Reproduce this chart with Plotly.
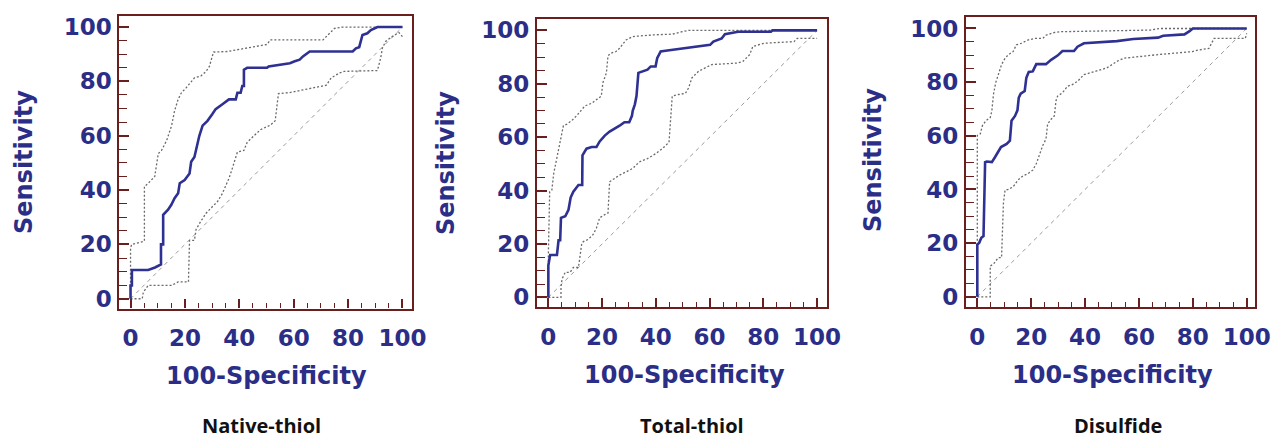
import plotly.graph_objects as go

# ---------------- data ----------------
panel_titles = ["Native-thiol", "Total-thiol", "Disulfide"]
x_title = "100-Specificity"
y_title = "Sensitivity"
tick_vals = [0, 20, 40, 60, 80, 100]
tick_text = ["0", "20", "40", "60", "80", "100"]

# Native-thiol ROC
native_x = [0, 0, 0.5, 0.5, 6.5, 9, 11.2, 11.2, 12, 12, 13.8, 15, 16.2, 17.5, 18.1, 19.9, 21.7, 22.3,
            23.5, 24.5, 25.3, 26.5, 28.3, 30.1, 31.3, 33.8, 36.2, 38.7, 39.3, 40.5, 41.1, 41.7, 41.7,
            42.9, 50.2, 50.8, 55, 58.6, 60.4, 62.2, 63.4, 65.9, 81.7, 82.9, 84.1, 85.3, 87.1, 88.4,
            90.8, 100]
native_y = [0, 4.9, 4.9, 10.6, 10.6, 11.5, 12.6, 20, 20, 30.9, 32.8, 34.6, 37, 38.8, 42.5, 43.7, 46.1,
            50.4, 52.2, 57, 60, 63.7, 65.5, 68, 69.8, 71.6, 73.4, 73.4, 75.8, 75.8, 78.3, 78.3, 84.3,
            85, 85, 85.5, 86.1, 86.7, 87.4, 88, 89.2, 91, 91, 92.2, 92.6, 97.1, 97.7, 98.9, 100, 100]
native_up_x = [0, 0, 0.4, 4.7, 5.1, 5.1, 6.5, 8.9, 10.2, 11.4, 13.3, 15.1, 16.2, 17.5, 18.7, 20.5,
               23.5, 25.9, 27.8, 29, 30.5, 35.6, 40.5, 45.4, 50.2, 51.4, 70.8, 72.6, 75, 78, 100]
native_up_y = [0, 18.6, 20, 21.2, 21.2, 41.3, 42.5, 45, 53.4, 54.6, 58.3, 63.7, 69.2, 73.4, 75.8,
               77.7, 81.3, 82, 83.7, 85.5, 90.8, 91, 91.8, 92.8, 93.6, 95.3, 95.3, 97.1, 99.5, 100, 100]
native_lo_x = [0, 4.3, 4.7, 6.5, 15.1, 17.5, 21.3, 21.7, 23.5, 24.1, 25.9, 27.8, 29.6, 32, 33.8,
               36.2, 37.4, 39.3, 41.7, 42.9, 45.4, 47.8, 49, 51.4, 53.2, 54.4, 58.6, 65.9, 72, 73.8,
               76.8, 78.6, 90.8, 92, 92.6, 93.8, 96.2, 98.7, 100]
native_lo_y = [0, 0, 2.4, 4.9, 4.9, 6.2, 6.2, 21.5, 21.5, 25.5, 28.6, 31.5, 33.4, 35.8, 38.8, 44.3,
               47.9, 54, 54.6, 57.6, 60, 62.2, 62.8, 63.9, 65.5, 75.5, 75.9, 77.5, 78.6, 81.3, 83.1,
               83.7, 84, 88.6, 92.2, 94.7, 96.5, 98, 96.5]

# Total-thiol ROC
total_x = [0, 0, 0.5, 0.7, 3.2, 3.8, 4.4, 4.7, 6.3, 7.5, 8.3, 9.3, 11.2, 12.6, 12.7, 14.2, 16.1,
           17.9, 19.1, 21, 22.8, 24.6, 26.5, 28.3, 30.1, 31.1, 31.4, 32.2, 32.8, 33.5, 35, 36.9,
           38.1, 39.9, 40.5, 41.8, 43.6, 46.1, 49.7, 57.1, 60.2, 61.4, 64.5, 65.7, 70.6, 82.8, 83.4,
           100]
total_y = [0, 11.9, 14.9, 15.9, 15.9, 21.4, 21.4, 29.8, 30.4, 32.8, 37.4, 39.6, 42.1, 42.1, 53.2,
           55.7, 56.3, 56.3, 58.4, 60.6, 62.1, 63.1, 64.3, 65.6, 65.6, 68, 69.9, 72.3, 75.4, 84.1,
           84.7, 85.3, 86.5, 86.5, 89.6, 92.1, 92.4, 92.7, 93.3, 94, 94.6, 95.8, 97, 98.6, 99.5,
           99.5, 100, 100]
total_up_x = [0, 0, 0.5, 1.3, 2, 3.2, 4.4, 5.6, 6.9, 8.7, 10.5, 12.4, 13.6, 16.1, 17.9, 19.7, 20.3,
              21.6, 22.2, 23.4, 25.2, 26.5, 28.9, 31.4, 38.7, 46.1, 49.7, 52.2, 100]
total_up_y = [0, 16.2, 39.6, 40.2, 46.4, 52, 58.1, 64.3, 64.9, 66.2, 68, 70.5, 71.7, 72.7, 74.2,
              75.4, 80.4, 84.1, 90.5, 91.5, 92.1, 93.3, 96.4, 97.7, 98.3, 98.6, 99.5, 100, 100]
total_lo_x = [0, 4.7, 4.7, 5.1, 6.3, 8.1, 9.3, 11.2, 12.4, 13, 14.8, 16.7, 17.9, 19.1, 21, 22.2,
              22.8, 24.6, 26.5, 28.9, 31.4, 33.8, 36.9, 39.9, 42.4, 44.9, 45.5, 46.1, 48.5, 51,
              52.2, 53.4, 55.9, 58.3, 60.8, 70.6, 72.4, 74.9, 76.1, 80.4, 91.4, 92.6, 100]
total_lo_y = [0, 0, 3.8, 6.9, 9.4, 9.4, 11.2, 11.2, 19.9, 20.9, 21.7, 23.6, 26, 29.8, 31, 31.6,
              43.3, 44.6, 45.8, 47, 48.3, 50.7, 52, 53.8, 55.7, 58.1, 65.6, 75.4, 76, 76.4, 78.5,
              82.2, 84.7, 85.9, 87.2, 87.8, 88.4, 90.9, 94, 95.2, 95.8, 97, 97]

# Disulfide ROC
disulfide_x = [0, 0, 0.7, 1.5, 2.3, 2.7, 2.9, 3.5, 5.4, 6.6, 7.8, 8.8, 10.9, 12.1, 12.7, 14, 14.9,
               15.4, 16.1, 17.6, 18.2, 19.1, 20.6, 21.3, 21.9, 25.5, 27.4, 29.8, 31.6, 35.9, 37.2,
               39.6, 44.5, 51.8, 57.9, 67.1, 69, 76.9, 78.8, 80, 100]
disulfide_y = [0, 19.5, 20.1, 22, 22.6, 45.9, 50.2, 50.4, 50.2, 52.1, 53.9, 55.8, 57, 58.2, 65.6,
               67.4, 69.5, 74.2, 75.7, 76.7, 81.6, 83.8, 84, 85.5, 86.7, 86.7, 88.3, 89.9, 91.6,
               91.6, 93.2, 94.5, 94.8, 95.3, 96.1, 96.6, 97.3, 97.8, 99, 100, 100]
disulfide_up_x = [0, 0, 1.1, 1.9, 3.2, 4.8, 5.4, 6, 6.8, 7.8, 9, 10.3, 11.5, 13.3, 14.5, 16.4,
                  18.8, 21.3, 24.3, 25.5, 28.6, 31, 44.5, 64.1, 67.7, 100]
disulfide_up_y = [0, 60.1, 60.7, 63.8, 65.6, 66.8, 69.3, 75.4, 79.7, 82.8, 86.5, 88.9, 90.2, 91.4,
                  93.9, 94.5, 95.7, 96.3, 96.3, 97.5, 98.5, 98.8, 99, 99.4, 100, 100]
disulfide_lo_x = [0, 4.8, 4.8, 6, 7.8, 9, 9.7, 10.3, 11.5, 13.3, 15.1, 17, 18.8, 20.6, 21.9, 23.1,
                  24.3, 25.5, 26.1, 27.4, 28.6, 29.2, 29.8, 31.6, 33.5, 35.3, 37.2, 39.6, 43.9,
                  45.7, 48.1, 51.8, 54.3, 66.5, 79.9, 82.3, 86, 87.9, 99.5, 100]
disulfide_lo_y = [0, 0, 11.5, 12.2, 14.6, 14.6, 34.9, 39.8, 40, 41, 43.5, 45.1, 45.9, 47.2, 49.6,
                  53.3, 56.4, 58.8, 64.4, 66.2, 67.4, 73, 74.8, 76, 78.5, 79.1, 80.3, 82.8, 84,
                  84.6, 85.3, 87.7, 88.9, 90.2, 91.4, 92, 92.6, 96.3, 96.3, 98.2]

diag = [0, 100]

# ---------------- styling / layout ----------------
W, H = 1286, 437
OFF = 8  # default page margin around the plot div
NAVY = "#2b2e86"
CURVE = "#2e3192"
FRAME = "#6b1e1e"
CI = "#6a6a6a"
DIAG = "#9a9a9a"

panels = [
    dict(x=native_x, y=native_y, ux=native_up_x, uy=native_up_y, lx=native_lo_x, ly=native_lo_y,
         dom_px=(120.7, 417.0), dom_py=(14.0, 310.0), xr=[-4.1, 103.6], yr=[-3.6, 104.1],
         xt=(270, 378), yt=(24, 162), bt=(264, 428)),
    dict(x=total_x, y=total_y, ux=total_up_x, uy=total_up_y, lx=total_lo_x, ly=total_lo_y,
         dom_px=(543.3, 836.7), dom_py=(17.3, 308.7), xr=[-4.2, 103.7], yr=[-3.7, 104.2],
         xt=(692, 377), yt=(451, 163), bt=(700, 428)),
    dict(x=disulfide_x, y=disulfide_y, ux=disulfide_up_x, uy=disulfide_up_y, lx=disulfide_lo_x,
         ly=disulfide_lo_y, dom_px=(977.3, 1270.0), dom_py=(15.3, 308.7), xr=[-4.2, 103.2],
         yr=[-3.9, 104.2], xt=(1126, 377), yt=(883, 160), bt=(1131, 428)),
]

fig = go.Figure()
annotations = []
layout_axes = {}


def px2x(p):
    return (p - OFF) / W


def py2y(p):
    return 1 - (p - OFF) / H


for i, p in enumerate(panels):
    n = "" if i == 0 else str(i + 1)
    xa, ya = "x" + n, "y" + n
    # diagonal reference line
    fig.add_trace(go.Scatter(x=diag, y=diag, mode="lines", xaxis=xa, yaxis=ya,
                             line=dict(color=DIAG, width=1, dash="4px,4px"), hoverinfo="skip"))
    # confidence bounds
    fig.add_trace(go.Scatter(x=p["ux"], y=p["uy"], mode="lines", xaxis=xa, yaxis=ya,
                             line=dict(color=CI, width=1.3, dash="2px,2px")))
    fig.add_trace(go.Scatter(x=p["lx"], y=p["ly"], mode="lines", xaxis=xa, yaxis=ya,
                             line=dict(color=CI, width=1.3, dash="2px,2px")))
    # ROC curve
    fig.add_trace(go.Scatter(x=p["x"], y=p["y"], mode="lines", xaxis=xa, yaxis=ya,
                             line=dict(color=CURVE, width=2.6)))

    tickfont = dict(family="DejaVu Sans", size=23, color=NAVY, weight="bold")
    layout_axes["xaxis" + n] = dict(
        domain=[px2x(p["dom_px"][0]), px2x(p["dom_px"][1])], anchor=ya, range=p["xr"],
        tickvals=tick_vals, ticktext=tick_text, ticks="inside", ticklen=9, tickwidth=1.5,
        tickcolor=FRAME, tickfont=tickfont, showgrid=False, zeroline=False,
        showline=True, linecolor=FRAME, linewidth=2.2, mirror=True, ticklabelstandoff=8,
        minor=dict(ticks="inside", ticklen=5, tickwidth=1.2, tickcolor=FRAME, dtick=5, tick0=0,
                   showgrid=False),
        fixedrange=True)
    layout_axes["yaxis" + n] = dict(
        domain=[py2y(p["dom_py"][1]), py2y(p["dom_py"][0])], anchor=xa, range=p["yr"],
        tickvals=tick_vals, ticktext=tick_text, ticks="inside", ticklen=10, tickwidth=1.5,
        tickcolor=FRAME, tickfont=tickfont, showgrid=False, zeroline=False,
        showline=True, linecolor=FRAME, linewidth=2.2, mirror=True,
        ticklabelstandoff=1,
        minor=dict(ticks="inside", ticklen=8, tickwidth=1.2, tickcolor=FRAME, dtick=5, tick0=0,
                   showgrid=False),
        fixedrange=True)

    annotations.append(dict(text=x_title, x=px2x(p["xt"][0]), y=py2y(p["xt"][1]),
                            xref="paper", yref="paper", showarrow=False,
                            xanchor="center", yanchor="middle",
                            font=dict(family="DejaVu Sans", size=24, color=NAVY, weight="bold")))
    annotations.append(dict(text=y_title, x=px2x(p["yt"][0]), y=py2y(p["yt"][1]),
                            xref="paper", yref="paper", showarrow=False, textangle=-90,
                            xanchor="center", yanchor="middle",
                            font=dict(family="DejaVu Sans", size=24, color=NAVY, weight="bold")))
    annotations.append(dict(text=panel_titles[i], x=px2x(p["bt"][0]), y=py2y(p["bt"][1]),
                            xref="paper", yref="paper", showarrow=False,
                            xanchor="center", yanchor="middle",
                            font=dict(family="Open Sans", size=20, color="#111111",
                                      weight="bold")))

fig.update_layout(
    width=W, height=H, margin=dict(l=0, r=0, t=0, b=0),
    paper_bgcolor="white", plot_bgcolor="white", showlegend=False,
    annotations=annotations, **layout_axes)

fig.write_html("out.html")
